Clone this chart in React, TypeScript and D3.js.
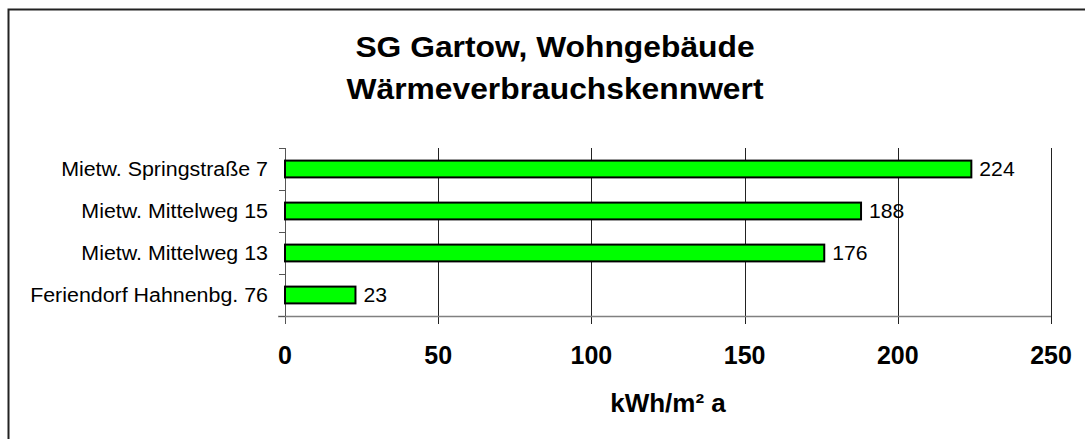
import React from 'react';
import * as d3 from 'd3';

const categories = ['Mietw. Springstraße 7', 'Mietw. Mittelweg 15', 'Mietw. Mittelweg 13', 'Feriendorf Hahnenbg. 76'];
const values = [224, 188, 176, 23];
const xTicks = [0, 50, 100, 150, 200, 250];
const titleLines = ['SG Gartow, Wohngebäude', 'Wärmeverbrauchskennwert'];
const xAxisTitle = 'kWh/m² a';

const W = 1085;
const H = 439;
const plot = { left: 285, right: 1051, top: 148, bottom: 316 };
const font = 'Arial, "Liberation Sans", sans-serif';

const App: React.FC = () => {
  const x = d3.scaleLinear().domain([0, 250]).range([plot.left, plot.right]);
  const y = d3.scaleBand<string>()
    .domain(categories)
    .range([plot.top, plot.bottom])
    .paddingInner(0.6)
    .paddingOuter(0.3);
  const step = y.step();
  // category boundaries for the tick marks on the left axis
  const boundaries = d3.range(categories.length + 1).map(i => plot.top + i * step);
  const titleX = 555;

  return (
    <svg width={W} height={H} style={{ position: 'absolute', left: 0, top: 0, background: '#fff' }} fontFamily={font}>
      {/* outer frame */}
      <rect x={8.5} y={9.5} width={W + 20} height={H + 20} fill="#fff" stroke="#222" strokeWidth={2} />

      {/* title, slightly wider than tall like the original */}
      {titleLines.map((t, i) => (
        <text key={t} transform={`translate(${titleX},${57 + i * 41.5}) scale(1.06,1)`} textAnchor="middle"
          fontSize={30} fontWeight="bold" fill="#000">{t}</text>
      ))}

      {/* vertical gridlines + bottom ticks */}
      {xTicks.map(t => (
        <line key={'g' + t} x1={Math.round(x(t)) + 0.5} x2={Math.round(x(t)) + 0.5}
          y1={plot.top} y2={plot.bottom + 8} stroke={t === 0 ? '#555' : '#222'} strokeWidth={1} />
      ))}

      {/* bottom axis */}
      <line x1={plot.left - 7} x2={plot.right} y1={plot.bottom + 0.5} y2={plot.bottom + 0.5} stroke="#808080" strokeWidth={1.5} />

      {/* left axis */}
      <line x1={plot.left + 0.5} x2={plot.left + 0.5} y1={plot.top} y2={plot.bottom} stroke="#555" strokeWidth={1} />
      {boundaries.map((b, i) => (
        <line key={'t' + i} x1={plot.left - 6} x2={plot.left} y1={Math.round(b) + 0.5} y2={Math.round(b) + 0.5} stroke="#555" strokeWidth={1} />
      ))}

      {/* bars */}
      {categories.map((c, i) => (
        <g key={c}>
          <rect x={x(0)} y={y(c)!} width={x(values[i]) - x(0)} height={y.bandwidth()}
            fill="#00ff00" stroke="#000" strokeWidth={2} />
          <text transform={`translate(${x(values[i]) + 8},${y(c)! + y.bandwidth() / 2}) scale(1.06,1)`}
            dominantBaseline="central" fontSize={20} fill="#000">{values[i]}</text>
          <text transform={`translate(268,${y(c)! + y.bandwidth() / 2}) scale(1.07,1)`}
            dominantBaseline="central" textAnchor="end" fontSize={20} fill="#000">{c}</text>
        </g>
      ))}

      {/* x tick labels */}
      {xTicks.map(t => (
        <text key={'l' + t} x={x(t)} y={364} textAnchor="middle" fontSize={25} fontWeight="bold" fill="#000">{t}</text>
      ))}

      {/* x axis title */}
      <text transform={`translate(${(plot.left + plot.right) / 2},412) scale(1.04,1)`} textAnchor="middle"
        fontSize={25} fontWeight="bold" fill="#000">{xAxisTitle}</text>
    </svg>
  );
};

export default App;
